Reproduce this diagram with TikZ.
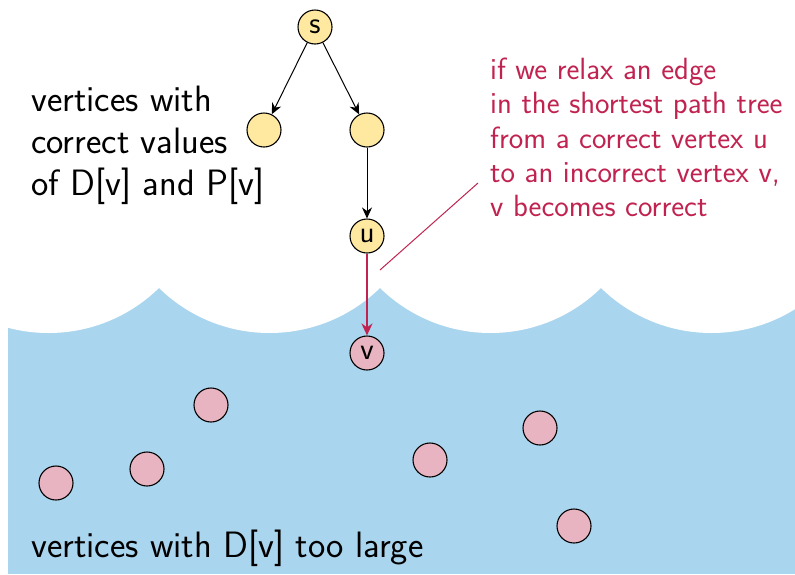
\documentclass[tikz,border=0pt]{standalone}
\usetikzlibrary{arrows.meta}
\definecolor{water}{RGB}{170,213,238}
\definecolor{goodfill}{RGB}{255,233,160}
\definecolor{badfill}{RGB}{233,180,193}
\definecolor{accent}{RGB}{193,35,80}
\tikzset{
  vert/.style={circle,draw=black,line width=1.1pt,minimum size=34pt,inner sep=0pt,font=\sffamily\fontsize{31}{33}\selectfont},
  good/.style={vert,fill=goodfill},
  bad/.style={vert,fill=badfill},
  treeedge/.style={-{Stealth[length=11pt,width=10pt]},line width=1pt,black},
  relaxedge/.style={-{Stealth[length=12pt,width=11pt]},line width=2.4pt,accent},
  bigtext/.style={font=\sffamily\fontsize{36.7}{42}\selectfont,align=left,inner sep=0pt},
  notetext/.style={font=\sffamily\fontsize{30.7}{34.3}\selectfont,align=left,inner sep=0pt,text=accent},
}
\begin{document}
\begin{tikzpicture}[x=1pt,y=-1pt]
\useasboundingbox (0,0) rectangle (795,574);
% water
\begin{scope}
\clip (8,288) rectangle (795,574);
\fill[water] (8,288) rectangle (795,574);
\foreach \cx in {48.5,269.5,490.5,711.5} \fill[white] (\cx,175) circle[radius=158];
\end{scope}
% nodes
\node[good] (s) at (315,27) {s};
\node[good] (a) at (264,130) {};
\node[good] (b) at (367,130) {};
\node[good] (u) at (367,236) {u};
\node[bad] (v) at (367,353) {v};
\node[bad] (p1) at (56,483) {};
\node[bad] (p2) at (147,469) {};
\node[bad] (p3) at (211,405) {};
\node[bad] (p4) at (430,460) {};
\node[bad] (p5) at (540,428) {};
\node[bad] (p6) at (574,526) {};
\draw[treeedge] (s) -- (a);
\draw[treeedge] (s) -- (b);
\draw[treeedge] (b) -- (u);
\draw[relaxedge] (u) -- (v);
% texts
\node[bigtext,anchor=base west] (lefttext) at (31,195) {vertices with\\correct values\\of D[v] and P[v]};
\node[bigtext,anchor=base west] (bottomtext) at (31,557) {vertices with D[v] too large};
\node[notetext,anchor=base west] (note) at (490,216.7) {if we relax an edge\\in the shortest path tree\\from a correct vertex u\\to an incorrect vertex v,\\v becomes correct};
\coordinate (pointer) at (380,270);
\coordinate (noteend) at (478,183);
\draw[accent,line width=1pt] (pointer) -- (noteend);
\end{tikzpicture}
\end{document}
